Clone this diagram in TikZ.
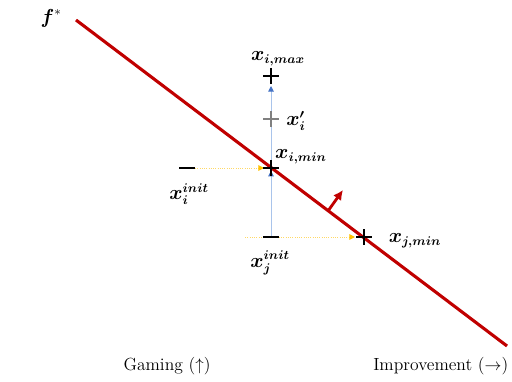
\documentclass[tikz,border=0pt]{standalone}
\usepackage{amsmath}
\usepackage{amssymb}
\usepackage{bm}
\usetikzlibrary{arrows.meta,positioning,calc}
\definecolor{fline}{HTML}{C00000}
\definecolor{gameline}{HTML}{A9C4EB}
\definecolor{gametip}{HTML}{4472C4}
\definecolor{impline}{HTML}{FFD966}
\definecolor{imptip}{HTML}{FFC000}

\begin{document}
\begin{tikzpicture}[x=0.025cm, y=-0.025cm,
  lbl/.style={font=\fontsize{13.5}{15}\selectfont, inner sep=0pt},
  axlbl/.style={font=\fontsize{12.5}{14}\selectfont, inner sep=0pt},
  crossmk/.style={line width=1.9pt},
  gaming/.style={draw=gameline, line width=0.7pt, -{Triangle[width=4pt,length=4pt,color=gametip]}},
  improve/.style={draw=impline, line width=0.7pt, dash pattern=on 0.8pt off 0.8pt, -{Triangle[width=4pt,length=4pt,color=imptip]}}]
\useasboundingbox (0,0) rectangle (512,381);
% points of the picture
\coordinate (ftop) at (76,20);
\coordinate (fbot) at (507,346);
\coordinate (imax) at (271,76);
\coordinate (iprime) at (271,119);
\coordinate (imin) at (271,168);
\coordinate (iinit) at (187,168);
\coordinate (jinit) at (271,237);
\coordinate (jstart) at (245,237);
\coordinate (jmin) at (364,237);
\coordinate (nbase) at (328,211);
\coordinate (ntip) at (343,190);
% decision boundary
\draw[fline, line width=2.2pt] (ftop) -- (fbot);
\node[lbl] (flbl) at (51,18) {$\bm{f}^{*}$};
\draw[fline, line width=2pt, -{Latex[length=7pt,width=7pt]}] (nbase) -- (ntip);
% gaming and improvement moves
\draw[gaming, shorten >=2pt] (jinit) -- (imin);
\draw[gaming, shorten >=10*0.025cm] (imin) -- (imax);
\draw[improve, shorten <=8*0.025cm, shorten >=7*0.025cm] (iinit) -- (imin);
\draw[improve, shorten >=9*0.025cm] (jstart) -- (jmin);
% marks
\draw[crossmk, shift={(imax)}] (-8,0) -- (8,0) (0,-8) -- (0,8);
\draw[crossmk, gray, shift={(iprime)}] (-8,0) -- (8,0) (0,-8) -- (0,8);
\draw[crossmk, shift={(imin)}] (-8,0) -- (8,0) (0,-8) -- (0,8);
\draw[crossmk, shift={(jmin)}] (-8,0) -- (8,0) (0,-8) -- (0,8);
\draw[crossmk, shift={(iinit)}] (-8,0) -- (8,0);
\draw[crossmk, shift={(jinit)}] (-8,0) -- (8,0);
% labels
\node[lbl] (imaxlbl) at (278,59) {$\bm{x_{i,max}}$};
\node[lbl] (iprimelbl) at (296,121) {$\bm{x_i'}$};
\node[lbl] (iminlbl) at (301,157) {$\bm{x_{i,min}}$};
\node[lbl] (iinitlbl) at (189,194) {$\bm{x_i^{init}}$};
\node[lbl] (jinitlbl) at (270,263) {$\bm{x_j^{init}}$};
\node[lbl] (jminlbl) at (415,241) {$\bm{x_{j,min}}$};
\node[axlbl] (gamelbl) at (167,366) {Gaming ($\uparrow$)};
\node[axlbl, anchor=west] (implbl) at (373,366) {Improvement ($\rightarrow$)};
\end{tikzpicture}
\end{document}
